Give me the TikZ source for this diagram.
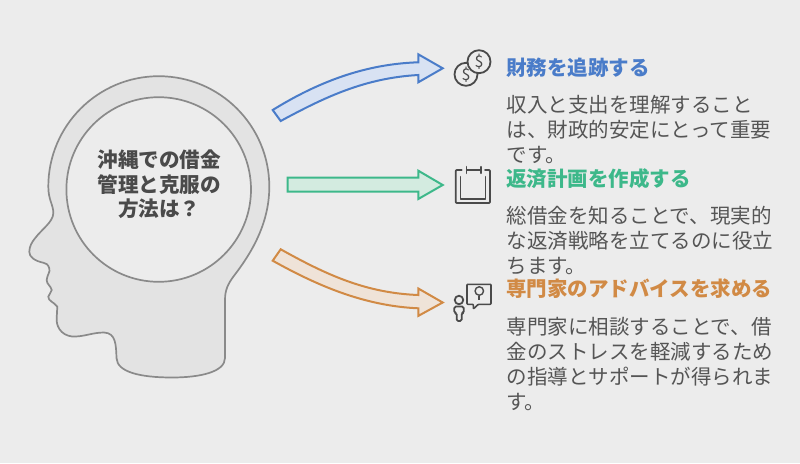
\documentclass[tikz,border=0pt]{standalone}
\usepackage{fontspec}
\setmainfont{Noto Sans CJK JP}
\usetikzlibrary{calc,positioning}
\definecolor{bggrey}{HTML}{ECECEC}
\definecolor{headgrey}{HTML}{E3E3E3}
\definecolor{linegrey}{HTML}{8A8A8A}
\definecolor{icongrey}{HTML}{4A4A4A}
\definecolor{textgrey}{HTML}{555555}
\definecolor{myblue}{HTML}{4A7CC9}
\definecolor{mygreen}{HTML}{3DB88A}
\definecolor{myorange}{HTML}{D18A45}
\tikzset{icon/.style={draw=icongrey,line width=1.8pt,line join=round,line cap=round}}

\begin{document}
\begin{tikzpicture}[x=1pt,y=-1pt,font=\fontsize{20.5}{25}\selectfont]

\tikzset{bluearrow/.style={draw=myblue,fill={rgb,255:red,216;green,226;blue,243},line width=2pt,line join=miter},
greenarrow/.style={draw=mygreen,fill={rgb,255:red,211;green,235;blue,224},line width=2pt,line join=miter},
orangearrow/.style={draw=myorange,fill={rgb,255:red,239;green,227;blue,216},line width=2pt,line join=miter},
coinnode/.style={icon,circle,fill=bggrey,minimum size=23pt,inner sep=0pt,font=\fontsize{16}{16}\selectfont,text=icongrey},
titlenode/.style={font=\fontsize{20.5}{25}\selectfont\bfseries,anchor=west,inner sep=0pt},
bodynode/.style={text=textgrey,align=left,anchor=west,inner sep=0pt}}

% Background
\fill[bggrey] (0,0) rectangle (800,463);
\useasboundingbox (0,0) rectangle (800,463);

% Head
\draw[fill=headgrey,draw=linegrey,line width=1.7pt] (48.3,186.7)
  .. controls (48.3,125.7) and (97.8,76.2) .. (158.8,76.2)
  .. controls (219.8,76.2) and (269.3,125.7) .. (269.3,186.7)
  .. controls (269.3,225) and (250,255) .. (233.3,276.7)
  .. controls (228,284) and (225,290) .. (225,300)
  -- (225,358)
  .. controls (225,372) and (200,377.5) .. (172,377.5)
  .. controls (140,377.5) and (117,372) .. (116.5,358)
  .. controls (116,345) and (116,333) .. (104,332.5)
  .. controls (92,332.5) and (84,337) .. (72,336.5)
  .. controls (60,335) and (56,325) .. (56.7,318)
  -- (57.3,306.7)
  .. controls (54,302) and (48,301) .. (48.3,296.7)
  .. controls (48.5,293) and (52,293) .. (51.7,290)
  .. controls (51,286) and (46.5,284) .. (46.7,280)
  .. controls (47,275) and (50.5,272) .. (49.3,268.3)
  .. controls (48,264) and (46,263.5) .. (43.3,262.7)
  .. controls (35,261) and (29,257) .. (29.3,251.7)
  .. controls (29.5,246) and (32,242) .. (35,238.3)
  .. controls (42,229) and (53,222) .. (53.3,213.3)
  .. controls (53.5,205) and (48.3,200) .. (48.3,186.7)
  -- cycle;
\node[circle,fill=bggrey,draw=linegrey,line width=1.7pt,minimum size=184.6pt,inner sep=0pt] (headCircle) at (158.7,189.5) {};
\node[align=center,text=icongrey,inner sep=0pt,font=\fontsize{20.6}{24.6}\selectfont\bfseries] (headText) at (159.2,184.5) {沖縄での借金\\管理と克服の\\方法は？};

% Arrow ends
\coordinate (blueTip) at (442.7,68.3);
\coordinate (greenTip) at (442.7,185);
\coordinate (orangeTip) at (442.7,302.5);
\coordinate (blueTailA) at (272.7,110);
\coordinate (blueTailB) at (280.7,121);
\coordinate (greenTailA) at (287.7,177.7);
\coordinate (greenTailB) at (287.7,191.7);
\coordinate (orangeTailA) at (280.7,249.3);
\coordinate (orangeTailB) at (272.7,260.7);

% Block arrows
\draw[bluearrow] (blueTailA) .. controls (318,82) and (365,64) .. ($(blueTip)+(-24.4,-6)$)
  -- ($(blueTip)+(-24.4,-14)$) -- (blueTip) -- ($(blueTip)+(-24.4,14)$) -- ($(blueTip)+(-24.4,6.7)$)
  .. controls (365,78) and (325,97) .. (blueTailB) -- cycle;
\draw[greenarrow] (greenTailA) -- ($(greenTip)+(-24.4,-7.3)$) -- ($(greenTip)+(-24.4,-14.3)$)
  -- (greenTip) -- ($(greenTip)+(-24.4,14)$) -- ($(greenTip)+(-24.4,6.7)$) -- (greenTailB) -- cycle;
\draw[orangearrow] (orangeTailA) .. controls (325,274) and (365,293) .. ($(orangeTip)+(-24.4,-7.5)$)
  -- ($(orangeTip)+(-24.4,-14)$) -- (orangeTip) -- ($(orangeTip)+(-24.4,13.4)$) -- ($(orangeTip)+(-24.4,5.8)$)
  .. controls (365,306) and (318,286) .. (orangeTailB) -- cycle;

% Coins icon
\node[coinnode] (coinB) at (466,74.3) {\$};
\node[coinnode] (coinA) at (479,61.7) {\$};

% Calendar icon
\draw[icon,rounded corners=1pt] (461.7,170) -- (455.7,170) -- (455.7,203) -- (490,203) -- (490,170) -- (485,170);
\draw[icon,line width=1.5pt] (460.3,176.7) -- (460.3,198.8) -- (485.7,198.8) -- (485.7,176.7);
\draw[icon,line width=1.5pt] (466.7,166.7) -- (466.7,173.3) (481.2,166.7) -- (481.2,173.3) (466.7,170) -- (481.2,170);

% Person with bubble icon
\node[icon,circle,minimum size=8.5pt,inner sep=0pt] (personHead) at (459,300) {};
\draw[icon,rounded corners=1.5pt] (454.3,313) -- (454.3,306.5) -- (463.7,306.5) -- (463.7,313) -- (461.7,313) -- (461.7,321) -- (456.7,321) -- (456.7,313) -- cycle;
\draw[icon,line width=1.6pt,rounded corners=0.8pt] (467,284.3) -- (491,284.3) -- (491,304.3) -- (478.3,304.3) -- (473.3,309) -- (473.3,304.3) -- (467,304.3) -- cycle;
\node[icon,circle,line width=1.4pt,minimum size=8.5pt,inner sep=0pt] (bulb) at (479.3,291) {};
\draw[icon,line width=2pt,line cap=butt] (bulb.south) -- +(0,4);

% Titles
\node[titlenode,text=myblue] (title1) at (506,67.3) {財務を追跡する};
\node[titlenode,text=mygreen] (title2) at (506,178.3) {返済計画を作成する};
\node[titlenode,text=myorange] (title3) at (506,288.3) {専門家のアドバイスを求める};

% Body texts
\node[bodynode] (body1) at (506.3,130) {収入と支出を理解すること\\は、財政的安定にとって重要\\です。};
\node[bodynode] (body2) at (506.3,240.5) {総借金を知ることで、現実的\\な返済戦略を立てるのに役立\\ちます。};
\node[bodynode] (body3) at (506.3,364) {専門家に相談することで、借\\金のストレスを軽減するため\\の指導とサポートが得られま\\す。};

\end{tikzpicture}
\end{document}
